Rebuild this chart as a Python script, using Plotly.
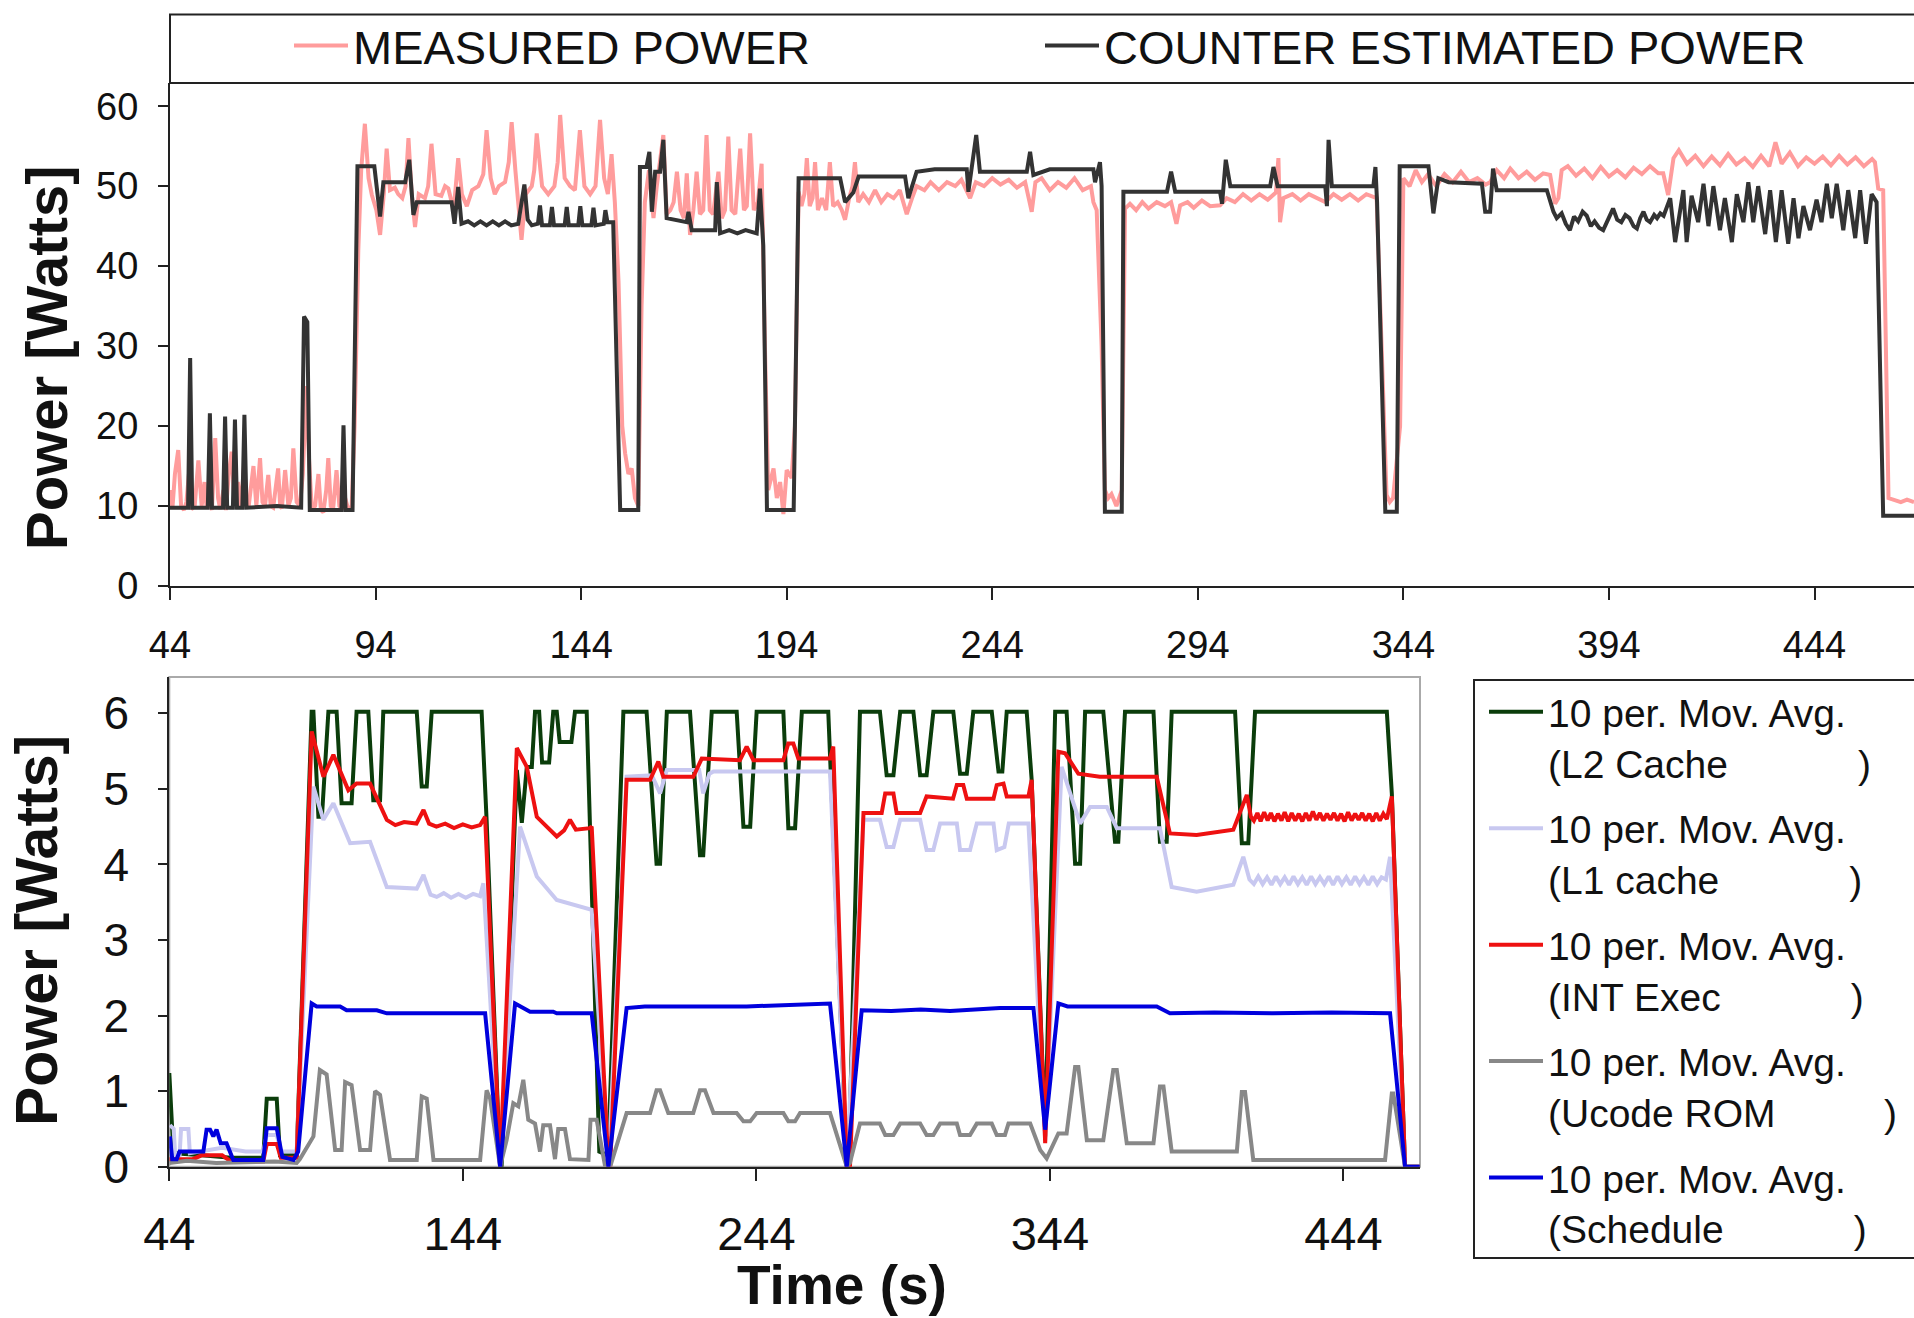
import plotly.graph_objects as go

# ------------------------------------------------------------------
# Data
# ------------------------------------------------------------------
TOP_X_TICKS = [44, 94, 144, 194, 244, 294, 344, 394, 444]
TOP_Y_TICKS = [0, 10, 20, 30, 40, 50, 60]
BOT_X_TICKS = [44, 144, 244, 344, 444]
BOT_Y_TICKS = [0, 1, 2, 3, 4, 5, 6]

# Measured power (time s, watts)
MEASURED_POWER = [
    (44.0, 12.0), (44.6, 9.8), (45.2, 14), (46.0, 17), (46.7, 10), (47.4, 9.5), (48.0, 10.5),
    (48.6, 14), (49.2, 9.6), (50.0, 10), (50.9, 15.7), (51.7, 10), (52.4, 13), (52.9, 9.8),
    (53.6, 11), (54.2, 9.5), (55.0, 18.5), (55.7, 11), (56.2, 9.6), (57.0, 12), (57.6, 9.5),
    (58.3, 14), (59.0, 16.8), (59.7, 10), (60.5, 13), (61.2, 9.8), (62.0, 15), (62.6, 10),
    (63.1, 9.8), (63.7, 13), (64.3, 15), (65.0, 10), (65.9, 16), (66.5, 10.5), (67.1, 10),
    (67.9, 13.9), (68.5, 10), (69.1, 9.8), (69.7, 12), (70.3, 14.7), (70.8, 10), (71.2, 9.7),
    (72.0, 14.5), (72.8, 10), (73.4, 11), (74.0, 17.2), (74.8, 10.5), (75.6, 10), (76.3, 14),
    (77.2, 25), (77.8, 16), (78.5, 9.5), (79.3, 10), (80.1, 14), (80.7, 9.5), (81.3, 9.2),
    (82.0, 12), (82.5, 16), (83.1, 10), (83.7, 9.8), (84.5, 14.5), (85.2, 10), (85.8, 9.6),
    (86.6, 11), (87.4, 9.5), (88.2, 10), (88.9, 20), (89.8, 42), (90.5, 52), (91.4, 57.8),
    (92.3, 51), (93.1, 48.9), (94.2, 47), (95.1, 43.9), (96.0, 49), (96.7, 54.7), (97.5, 49.5),
    (98.7, 49.8), (99.5, 49), (100.5, 48.5), (101.3, 50), (102.0, 56), (102.8, 49), (103.6, 44.9),
    (104.5, 49), (106.0, 48.5), (106.8, 50), (107.6, 55.3), (108.6, 49), (110.0, 48.8),
    (110.9, 50), (111.7, 49.7), (113.0, 47), (114.1, 53.5), (115.0, 49), (116.2, 47.5),
    (117.5, 49.5), (119.0, 50), (120.2, 51.5), (121.0, 57), (122.0, 51), (123.0, 49), (124.0, 50),
    (125.5, 50.5), (126.4, 53), (127.1, 58), (128.0, 52), (128.8, 48), (129.5, 43.3), (130.5, 49),
    (132.0, 50), (132.6, 52), (133.2, 56.6), (134.5, 50), (136.0, 49), (137.5, 50), (138.3, 53),
    (138.9, 58.9), (140.0, 51), (141.3, 50), (142.5, 49.5), (143.7, 57), (144.8, 50), (146.2, 49),
    (147.5, 50), (148.6, 58.3), (149.6, 51), (150.5, 49), (151.4, 54), (152.2, 48), (153.1, 38),
    (154.0, 20), (154.7, 16.6), (155.5, 14), (156.3, 14.7), (157.1, 11), (157.9, 10), (158.7, 35),
    (159.5, 48), (160.5, 52), (161.6, 46), (162.4, 50), (163.2, 53), (164.0, 56.4), (164.8, 46.5),
    (165.7, 47), (166.5, 48), (167.3, 51.8), (168.2, 47), (169.0, 46), (169.7, 51.6), (170.5, 43.9),
    (171.3, 47), (172.1, 51.8), (172.9, 46.5), (173.7, 47), (174.5, 56.4), (175.3, 47), (176.1, 46.5),
    (176.8, 49), (177.4, 51.8), (178.2, 46), (179.0, 47), (179.8, 56.2), (180.6, 47), (181.5, 46.5),
    (182.7, 54.7), (183.6, 47), (184.3, 47.5), (185.1, 56.6), (186.0, 47), (187.0, 48), (187.9, 52.8),
    (188.7, 30), (189.5, 12), (190.8, 14.7), (191.6, 11), (192.4, 13), (193.2, 9), (194.0, 14.5),
    (195.2, 13.5), (196.0, 20), (196.9, 49.3), (197.6, 47.5), (198.3, 49), (198.9, 53.5),
    (199.6, 47.5), (200.3, 48.5), (200.9, 53), (201.6, 47), (202.6, 48.5), (203.6, 47), (204.5, 53),
    (205.3, 47.5), (206.4, 48), (207.4, 47), (208.2, 45.8), (209.2, 48.5), (210.0, 50), (210.6, 53),
    (211.4, 48), (212.6, 49), (214.0, 48), (215.5, 49.5), (217.0, 48), (218.5, 49), (220.0, 48.5),
    (221.5, 49.5), (223.2, 46.5), (224.5, 48.5), (225.6, 50), (227.5, 49.5), (229.0, 50.5),
    (231.0, 49.5), (233.0, 50.5), (235.0, 50), (236.5, 50.8), (238.6, 48.5), (240.0, 50.5),
    (242.0, 50), (244.0, 51), (246.0, 50.2), (248.0, 50.8), (250.0, 49.8), (252.0, 50.5),
    (253.6, 46.8), (254.5, 50.5), (256.0, 51), (258.0, 49.5), (260.0, 50.5), (262.0, 49.8),
    (264.0, 51), (266.0, 49.5), (268.0, 50), (268.6, 48), (269.4, 47), (270.6, 30), (271.4, 12),
    (272.2, 11), (273.0, 11.5), (274.2, 10), (275.5, 12), (276.3, 47.2), (277.5, 47.8), (279.0, 47),
    (280.5, 48), (282.0, 47.2), (284.0, 48), (286.0, 47.5), (287.5, 48), (288.8, 45.3), (289.7, 47.6),
    (291.5, 48), (293.0, 47.3), (295.0, 48.2), (297.0, 47.5), (299.4, 47.6), (301.0, 48.5),
    (303.0, 48), (305.0, 49), (307.0, 48.2), (309.0, 49), (311.0, 48.3), (313.0, 49.2),
    (313.6, 53.5), (314.0, 45.5), (314.8, 48.5), (317.0, 49), (319.0, 48.2), (321.0, 49),
    (323.0, 48.5), (325.0, 48), (327.0, 49), (329.0, 48.3), (331.0, 49), (333.0, 48.2), (335.0, 49),
    (337.5, 48.5), (338.7, 30), (339.9, 11.4), (340.7, 10.5), (341.5, 11), (343.2, 20), (344.0, 51),
    (345.5, 50), (347.0, 52), (348.5, 50.5), (350.0, 51.5), (352.0, 50), (354.0, 51.5), (356.0, 50.5),
    (358.0, 51.8), (360.0, 50.5), (362.0, 51), (364.0, 50.2), (365.1, 50.5), (366.7, 52),
    (368.5, 51), (370.0, 52.2), (372.0, 51), (374.0, 51.8), (376.0, 50.8), (378.0, 51.6),
    (379.7, 51.4), (380.9, 47.8), (381.7, 48.5), (382.5, 52), (384.0, 52.5), (386.0, 51.3),
    (388.0, 52.2), (390.0, 51), (392.0, 52.4), (394.0, 51.2), (396.0, 52), (398.0, 51.1),
    (400.0, 52.3), (402.0, 51.5), (404.0, 52.5), (406.0, 51.6), (407.2, 51.6), (408.4, 48.9),
    (409.7, 53.5), (411.0, 54.5), (413.0, 52.8), (415.0, 53.8), (417.0, 52.5), (419.0, 53.7),
    (421.0, 52.6), (423.0, 54), (425.0, 52.7), (427.0, 53.5), (429.0, 52.4), (431.0, 53.8),
    (433.0, 52.5), (434.5, 55.5), (436.0, 52.8), (438.0, 54.2), (440.0, 52.5), (442.0, 53.6),
    (444.0, 52.8), (446.0, 53.7), (448.0, 52.6), (450.0, 53.8), (452.0, 52.7), (454.0, 53.6),
    (456.0, 52.5), (458.0, 53.4), (458.7, 53), (459.5, 49.7), (460.7, 49.5), (462.0, 11),
    (463.5, 10.8), (465.0, 10.5), (466.5, 10.8), (468.2, 10.5),
]

# Counter estimated power (time s, watts)
COUNTER_POWER = [
    (44.0, 9.8), (48.4, 9.8), (48.9, 28.5), (49.4, 9.8), (53.2, 9.8), (53.7, 21.6), (54.2, 9.8),
    (56.9, 9.8), (57.4, 21.2), (57.9, 9.8), (59.3, 9.8), (59.8, 20.8), (60.3, 9.8), (61.6, 9.8),
    (62.1, 21.4), (62.6, 9.8), (70.0, 10.0), (75.9, 9.8), (76.6, 33.7), (77.4, 33.0), (78.0, 9.5),
    (85.7, 9.5), (86.2, 20.1), (86.7, 9.5), (88.4, 9.5), (89.6, 52.5), (93.7, 52.5), (95.1, 46.2),
    (95.9, 50.5), (101.2, 50.5), (102.2, 53.3), (103.2, 46.4), (104.0, 48.0), (112.5, 48.0),
    (113.2, 45.3), (114.1, 49.9), (114.9, 45.3), (116.5, 45.6), (118.0, 45.1), (119.5, 45.6),
    (121.0, 45.1), (122.5, 45.6), (124.0, 45.1), (125.5, 45.6), (127.0, 45.1), (128.7, 45.3),
    (130.2, 50.2), (131.0, 45.8), (132.0, 45.1), (133.5, 45.3), (134.0, 47.6), (134.5, 45.1),
    (136.4, 45.1), (136.9, 47.4), (137.4, 45.1), (140.0, 45.1), (140.5, 47.4), (141.0, 45.1),
    (143.3, 45.1), (143.8, 47.5), (144.3, 45.1), (146.5, 45.1), (147.0, 47.3), (147.5, 45.1),
    (149.5, 45.3), (149.9, 47.0), (150.4, 45.5), (151.8, 45.5), (153.5, 9.5), (157.9, 9.5),
    (158.3, 52.4), (159.9, 52.4), (160.6, 54.3), (161.2, 46.8), (162.0, 51.8), (163.2, 51.8),
    (164.0, 55.8), (164.8, 46.0), (169.7, 45.5), (170.1, 46.8), (170.9, 44.5), (176.6, 44.5),
    (177.0, 50.5), (177.8, 44.1), (180.0, 44.5), (182.0, 44.1), (184.0, 44.5), (186.7, 44.1),
    (187.5, 49.7), (188.3, 42.6), (189.2, 9.5), (195.7, 9.5), (196.9, 51.0), (207.0, 51.0),
    (208.2, 48.0), (210.2, 49.2), (211.5, 51.2), (222.8, 51.2), (223.6, 48.5), (225.6, 51.8),
    (230.0, 52.1), (237.8, 52.1), (238.2, 49.3), (240.1, 56.4), (241.0, 51.8), (252.4, 51.8),
    (253.2, 54.3), (254.0, 51.4), (258.0, 52.1), (268.6, 52.1), (269.0, 50.5), (270.2, 53.0),
    (270.6, 50.0), (271.4, 9.3), (275.5, 9.3), (275.9, 49.3), (286.5, 49.3), (287.5, 51.8),
    (288.5, 49.3), (299.4, 49.3), (299.9, 47.8), (300.8, 53.3), (301.9, 50.0), (311.6, 50.0),
    (312.4, 52.4), (313.4, 50.0), (325.0, 50.0), (325.4, 47.5), (325.8, 55.8), (326.6, 50.0),
    (336.7, 50.0), (337.2, 52.4), (337.6, 48.0), (339.6, 9.3), (342.4, 9.3), (343.1, 52.5),
    (350.1, 52.5), (351.3, 46.6), (352.5, 51.0), (355.0, 50.5), (363.1, 50.3), (363.9, 46.8),
    (365.1, 46.8), (365.8, 52.2), (366.7, 49.5), (378.9, 49.5), (380.5, 46.8), (381.3, 46.0),
    (382.5, 46.6), (383.5, 45.3), (384.5, 44.5), (385.5, 46.2), (386.5, 45.6), (387.6, 46.8),
    (388.6, 46.3), (389.6, 45.0), (390.5, 45.6), (391.6, 44.8), (392.6, 44.5), (393.8, 46.0),
    (395.0, 47.2), (396.0, 45.8), (397.0, 45.5), (398.0, 46.4), (399.0, 46.0), (400.0, 45.0),
    (400.8, 44.7), (401.6, 46.0), (402.4, 46.8), (403.2, 45.8), (404.0, 45.5), (405.0, 46.4),
    (405.7, 46.0), (406.5, 46.6), (407.3, 46.3), (408.9, 48.5), (410.1, 43.0), (412.1, 49.5),
    (412.9, 43.0), (414.1, 48.8), (415.7, 45.5), (417.0, 50.3), (418.2, 45.0), (419.4, 50.0),
    (421.0, 44.5), (422.2, 48.5), (423.9, 43.0), (425.1, 49.0), (426.7, 45.5), (427.9, 50.5),
    (429.1, 45.5), (430.3, 50.0), (432.0, 44.0), (433.2, 49.5), (434.6, 43.0), (436.0, 49.5),
    (437.6, 42.8), (438.9, 48.5), (440.1, 43.5), (441.3, 47.5), (442.9, 44.5), (444.5, 48.3),
    (445.7, 45.5), (447.0, 50.3), (448.2, 46.0), (449.4, 50.3), (451.0, 44.5), (452.2, 49.5),
    (453.9, 43.5), (455.1, 49.5), (456.5, 42.8), (457.9, 49.0), (459.1, 48.0), (460.7, 8.8),
    (468.2, 8.8),
]

# Lower panel: 10-period moving averages of unit power (time s, watts)
L2_CACHE = [
    (44.0, 1.24), (45.4, 0.18), (55.0, 0.15), (65.0, 0.12), (76.0, 0.12), (77.2, 0.9), (80.6, 0.9),
    (81.7, 0.15), (87.4, 0.15), (92.5, 6.02), (93.1, 6.02), (94.8, 4.63), (96.0, 4.63), (98.2, 6.02),
    (101.0, 6.02), (102.7, 4.81), (106.1, 4.81), (107.8, 6.02), (111.8, 6.02), (113.5, 4.85),
    (115.8, 4.85), (116.9, 6.02), (128.3, 6.02), (130.0, 5.03), (131.7, 5.03), (133.4, 6.02),
    (150.4, 6.02), (152.1, 4.59), (156.7, 0.0), (157.2, 0.0), (162.4, 5.25), (164.1, 4.55),
    (165.8, 5.29), (167.5, 5.29), (168.6, 6.02), (170.0, 6.02), (171.0, 5.35), (173.4, 5.35),
    (174.8, 6.02), (176.0, 6.02), (177.0, 5.62), (181.0, 5.62), (182.2, 6.02), (186.2, 6.02),
    (190.5, 0.2), (193.5, 0.15), (198.7, 6.02), (206.6, 6.02), (210.0, 4.01), (211.2, 4.01),
    (213.5, 6.02), (221.4, 6.02), (224.8, 4.12), (225.9, 4.12), (228.8, 6.02), (237.3, 6.02),
    (239.6, 4.5), (241.9, 4.5), (244.1, 6.02), (253.2, 6.02), (254.9, 4.48), (257.2, 4.48),
    (259.5, 6.02), (268.5, 6.02), (274.8, 0.0), (275.5, 0.05), (279.3, 6.02), (286.1, 6.02),
    (288.4, 5.18), (290.7, 5.18), (293.0, 6.02), (297.5, 6.02), (299.8, 5.18), (302.0, 5.18),
    (304.3, 6.02), (311.1, 6.02), (313.4, 5.2), (315.7, 5.2), (317.9, 6.02), (324.2, 6.02),
    (326.5, 5.23), (327.8, 5.23), (329.3, 6.02), (336.1, 6.02), (337.8, 5.12), (342.4, 0.4),
    (345.8, 6.02), (349.7, 6.02), (352.6, 4.01), (354.3, 4.01), (356.0, 6.02), (362.2, 6.02),
    (366.2, 4.3), (367.3, 4.3), (369.6, 6.02), (379.3, 6.02), (381.5, 4.3), (383.8, 4.3),
    (385.5, 6.02), (407.1, 6.02), (409.4, 4.28), (411.6, 4.28), (413.9, 6.02), (458.8, 6.02),
    (460.5, 4.94), (465.0, 0.0), (470.0, 0.0),
]

L1_CACHE = [
    (44.2, 0.55), (45.5, 0.5), (46.0, 0.15), (47.5, 0.15), (48.0, 0.5), (50.5, 0.5), (51.0, 0.18),
    (62.0, 0.25), (70.0, 0.2), (76.0, 0.2), (77.2, 0.42), (80.6, 0.42), (82.0, 0.2), (87.4, 0.2),
    (93.1, 5.03), (96.5, 4.59), (99.9, 4.81), (105.6, 4.28), (112.4, 4.3), (118.1, 3.7),
    (128.3, 3.68), (130.6, 3.86), (133.0, 3.6), (135.1, 3.57), (137.5, 3.62), (140.0, 3.56),
    (142.5, 3.61), (145.0, 3.56), (147.5, 3.61), (149.9, 3.58), (151.0, 3.75), (156.7, 0.0),
    (163.5, 4.5), (169.2, 3.84), (176.0, 3.53), (180.5, 3.48), (187.3, 3.4), (187.9, 3.4),
    (193.6, 0.0), (199.8, 5.16), (208.4, 5.18), (211.2, 4.94), (213.5, 5.25), (224.5, 5.25),
    (225.9, 4.94), (228.0, 5.2), (229.4, 5.23), (269.1, 5.23), (274.8, 0.0), (280.5, 4.59),
    (286.1, 4.59), (288.4, 4.23), (290.7, 4.23), (293.0, 4.59), (299.8, 4.59), (302.0, 4.19),
    (304.3, 4.19), (306.6, 4.54), (312.3, 4.54), (313.4, 4.19), (316.8, 4.19), (319.1, 4.54),
    (324.8, 4.54), (325.9, 4.19), (328.5, 4.23), (330.0, 4.54), (336.7, 4.54), (342.4, 0.35),
    (348.0, 5.29), (354.3, 4.54), (357.7, 4.76), (363.4, 4.76), (366.8, 4.48), (381.5, 4.48),
    (385.5, 3.7), (394.0, 3.64), (406.5, 3.73), (409.9, 4.1), (412.0, 3.8), (413.5, 3.74),
    (415.0, 3.84), (416.5, 3.74), (418.0, 3.83), (419.5, 3.73), (421.0, 3.84), (422.5, 3.74),
    (424.0, 3.83), (425.5, 3.73), (427.0, 3.84), (428.5, 3.74), (430.0, 3.83), (431.5, 3.73),
    (433.0, 3.84), (434.5, 3.74), (436.0, 3.83), (437.5, 3.74), (439.0, 3.84), (440.5, 3.73),
    (442.0, 3.84), (443.5, 3.74), (445.0, 3.83), (446.5, 3.73), (448.0, 3.84), (449.5, 3.74),
    (451.0, 3.83), (452.5, 3.73), (454.0, 3.84), (455.5, 3.74), (457.0, 3.83), (458.5, 3.8),
    (459.9, 4.1), (465.0, 0.0), (470.0, 0.0),
]

INT_EXEC = [
    (44.0, 0.1), (52.0, 0.1), (55.0, 0.15), (62.0, 0.15), (65.0, 0.07), (76.0, 0.07), (77.2, 0.3),
    (80.6, 0.3), (82.0, 0.12), (87.4, 0.12), (92.5, 5.76), (96.5, 5.16), (99.9, 5.45), (105.0, 4.98),
    (107.8, 5.07), (112.4, 5.07), (118.1, 4.59), (121.0, 4.52), (124.0, 4.56), (128.2, 4.54),
    (130.6, 4.72), (132.5, 4.54), (135.0, 4.5), (138.0, 4.54), (141.0, 4.48), (144.0, 4.53),
    (147.0, 4.49), (149.9, 4.52), (151.6, 4.63), (156.7, 0.0), (162.4, 5.54), (165.8, 5.29),
    (169.2, 4.63), (172.6, 4.5), (176.0, 4.37), (178.5, 4.45), (180.5, 4.59), (182.5, 4.46),
    (187.3, 4.48), (187.9, 4.5), (193.6, 0.0), (194.2, 0.0), (199.8, 5.12), (207.8, 5.12),
    (210.6, 5.36), (212.3, 5.16), (222.5, 5.16), (225.4, 5.4), (238.4, 5.38), (240.7, 5.56),
    (243.0, 5.38), (253.2, 5.38), (254.9, 5.6), (256.6, 5.6), (258.3, 5.4), (269.1, 5.4),
    (270.2, 5.56), (274.8, 0.0), (275.9, 0.0), (280.5, 4.68), (286.7, 4.68), (287.9, 4.94),
    (290.7, 4.94), (291.8, 4.68), (299.8, 4.68), (302.0, 4.9), (311.0, 4.87), (312.3, 5.05),
    (314.5, 5.05), (315.7, 4.87), (324.8, 4.87), (325.9, 5.05), (328.2, 5.07), (329.3, 4.9),
    (336.7, 4.9), (337.8, 5.12), (342.4, 0.31), (346.9, 5.49), (349.2, 5.47), (353.7, 5.2),
    (361.0, 5.16), (380.4, 5.16), (384.9, 4.41), (394.0, 4.39), (406.5, 4.46), (411.1, 4.92),
    (412.5, 4.63), (413.5, 4.58), (414.7, 4.68), (415.8, 4.57), (417.0, 4.69), (418.2, 4.58),
    (419.3, 4.68), (420.5, 4.57), (421.7, 4.67), (422.9, 4.58), (424.0, 4.69), (425.2, 4.57),
    (426.4, 4.68), (427.6, 4.58), (428.8, 4.67), (430.0, 4.57), (431.2, 4.68), (432.4, 4.58),
    (433.6, 4.7), (434.8, 4.59), (436.0, 4.68), (437.2, 4.58), (438.4, 4.67), (439.6, 4.59),
    (440.8, 4.68), (442.0, 4.58), (443.2, 4.67), (444.4, 4.57), (445.6, 4.69), (446.8, 4.58),
    (448.0, 4.67), (449.2, 4.59), (450.4, 4.68), (451.6, 4.58), (452.8, 4.67), (454.0, 4.57),
    (455.2, 4.68), (456.4, 4.58), (457.6, 4.67), (458.8, 4.6), (460.5, 4.9), (465.0, 0.0),
    (470.0, 0.0),
]

UCODE_ROM = [
    (44.0, 0.05), (50.0, 0.08), (60.0, 0.05), (70.0, 0.06), (80.0, 0.07), (87.4, 0.05), (88.5, 0.1),
    (93.1, 0.4), (95.3, 1.28), (97.6, 1.22), (100.5, 0.22), (102.7, 0.22), (103.9, 1.12),
    (106.1, 1.08), (109.0, 0.22), (112.4, 0.22), (114.1, 1.0), (115.8, 0.95), (119.2, 0.09),
    (128.3, 0.09), (130.0, 0.93), (131.7, 0.9), (134.0, 0.09), (149.9, 0.09), (152.1, 1.01),
    (153.3, 0.9), (156.7, 0.0), (158.9, 0.35), (161.2, 0.84), (162.9, 0.8), (164.6, 1.15),
    (166.3, 0.62), (168.6, 0.57), (170.3, 0.2), (171.4, 0.55), (173.7, 0.55), (175.4, 0.1),
    (176.5, 0.5), (178.8, 0.5), (180.5, 0.1), (182.8, 0.1), (186.8, 0.09), (187.5, 0.62),
    (189.6, 0.62), (192.5, 0.0), (194.2, 0.0), (199.8, 0.71), (207.8, 0.71), (210.0, 1.01),
    (211.2, 1.01), (214.0, 0.71), (222.5, 0.71), (224.8, 1.01), (226.5, 1.01), (229.4, 0.71),
    (237.3, 0.71), (239.6, 0.6), (241.9, 0.6), (244.1, 0.71), (253.2, 0.71), (254.9, 0.6),
    (257.2, 0.6), (258.9, 0.71), (269.1, 0.71), (274.8, 0.0), (275.9, 0.05), (279.3, 0.57),
    (286.1, 0.57), (287.9, 0.42), (290.7, 0.42), (293.0, 0.57), (299.8, 0.57), (302.0, 0.42),
    (304.3, 0.42), (306.6, 0.57), (312.3, 0.57), (313.4, 0.42), (316.8, 0.42), (319.1, 0.57),
    (324.2, 0.57), (325.9, 0.42), (328.7, 0.42), (329.9, 0.57), (337.3, 0.57), (340.7, 0.22),
    (342.9, 0.11), (346.9, 0.44), (349.7, 0.44), (352.6, 1.32), (353.7, 1.32), (356.6, 0.35),
    (362.2, 0.35), (365.6, 1.28), (366.8, 1.28), (370.2, 0.31), (379.3, 0.31), (381.5, 1.06),
    (382.7, 1.06), (385.5, 0.2), (407.7, 0.2), (409.4, 0.99), (410.5, 0.99), (413.3, 0.09),
    (458.2, 0.09), (460.5, 0.97), (461.0, 0.97), (465.0, 0.0), (470.0, 0.0),
]

SCHEDULE = [
    (44.2, 0.4), (45.0, 0.1), (46.5, 0.1), (47.5, 0.2), (55.6, 0.2), (56.7, 0.49), (57.9, 0.49),
    (59.0, 0.4), (60.1, 0.49), (61.5, 0.31), (63.5, 0.31), (65.8, 0.09), (76.0, 0.09), (77.2, 0.51),
    (80.6, 0.51), (82.5, 0.13), (86.3, 0.09), (87.9, 0.2), (92.5, 2.16), (94.2, 2.12), (102.2, 2.12),
    (104.4, 2.07), (114.7, 2.07), (118.1, 2.03), (151.6, 2.03), (156.7, 0.0), (161.8, 2.16),
    (166.9, 2.05), (174.8, 2.05), (176.0, 2.03), (187.9, 2.03), (193.6, 0.0), (199.8, 2.1),
    (206.0, 2.12), (240.7, 2.12), (256.6, 2.14), (269.1, 2.16), (274.8, 0.0), (279.9, 2.07),
    (290.0, 2.06), (300.0, 2.08), (310.0, 2.06), (320.0, 2.08), (327.0, 2.1), (338.4, 2.1),
    (342.4, 0.49), (346.9, 2.16), (350.0, 2.12), (380.4, 2.12), (384.9, 2.03), (400.0, 2.04),
    (420.0, 2.03), (440.0, 2.04), (459.9, 2.03), (465.0, 0.0), (470.0, 0.0),
]

NB = "\u00a0"
LOWER_SERIES = [
    ("10 per. Mov. Avg.<br>(L2 Cache" + NB * 12 + ")", L2_CACHE, "#0b3d0b"),
    ("10 per. Mov. Avg.<br>(L1 cache" + NB * 12 + ")", L1_CACHE, "#c8c8f0"),
    ("10 per. Mov. Avg.<br>(INT Exec" + NB * 12 + ")", INT_EXEC, "#ee1111"),
    ("10 per. Mov. Avg.<br>(Ucode ROM" + NB * 10 + ")", UCODE_ROM, "#888888"),
    ("10 per. Mov. Avg.<br>(Schedule" + NB * 12 + ")", SCHEDULE, "#0000dd"),
]

# ------------------------------------------------------------------
W, H = 1914, 1318
FONT = "Liberation Sans, Arial, Helvetica, sans-serif"


def px(x):
    return x / W


def py(y):
    return (H - y) / H


fig = go.Figure()

fig.add_trace(go.Scatter(
    x=[p[0] for p in MEASURED_POWER], y=[p[1] for p in MEASURED_POWER],
    mode="lines", name="MEASURED POWER", line=dict(color="#ff9c9c", width=4),
    xaxis="x", yaxis="y", legend="legend", showlegend=True))
fig.add_trace(go.Scatter(
    x=[p[0] for p in COUNTER_POWER], y=[p[1] for p in COUNTER_POWER],
    mode="lines", name="COUNTER ESTIMATED POWER", line=dict(color="#333333", width=4),
    xaxis="x", yaxis="y", legend="legend2", showlegend=True))

for i, (name, pts, color) in enumerate(LOWER_SERIES):
    fig.add_trace(go.Scatter(
        x=[p[0] for p in pts], y=[p[1] for p in pts], mode="lines", name=name,
        line=dict(color=color, width=4), xaxis="x2", yaxis="y2",
        legend="legend3", legendgroup="g%d" % i, showlegend=True))

axis_common = dict(showgrid=False, zeroline=False, showline=True, ticks="outside",
                   tickwidth=2, tickcolor="#222", linecolor="#222", linewidth=2,
                   automargin=False)

top_x_dom = [px(170), 1.0]
top_y_dom = [py(586), py(83)]
bot_x_dom = [px(169.3), px(1420)]
bot_y_dom = [py(1166.7), py(677)]

fig.update_layout(
    width=W, height=H, margin=dict(l=0, r=0, t=0, b=0, autoexpand=False),
    paper_bgcolor="white", plot_bgcolor="white", showlegend=True,
    font=dict(family=FONT, color="#111"),
    xaxis=dict(axis_common, domain=top_x_dom, range=[44, 468.2], tickvals=TOP_X_TICKS,
               ticklen=12, ticklabelstandoff=12, anchor="y",
               tickfont=dict(family=FONT, size=38, color="#111")),
    yaxis=dict(axis_common, domain=top_y_dom, range=[0, 62.9], tickvals=TOP_Y_TICKS,
               ticklen=10, ticklabelstandoff=12, anchor="x",
               tickfont=dict(family=FONT, size=38, color="#111")),
    xaxis2=dict(axis_common, domain=bot_x_dom, range=[44, 470.1], tickvals=BOT_X_TICKS,
                ticklen=12, ticklabelstandoff=13, anchor="y2",
                tickfont=dict(family=FONT, size=47, color="#111")),
    yaxis2=dict(axis_common, domain=bot_y_dom, range=[0, 6.48], tickvals=BOT_Y_TICKS,
                ticklen=9, ticklabelstandoff=20, anchor="x2",
                tickfont=dict(family=FONT, size=46, color="#111")),
    legend=dict(x=px(289), y=py(46), xanchor="left", yanchor="middle",
                orientation="h", bgcolor="rgba(0,0,0,0)", borderwidth=0, visible=True,
                itemwidth=54, font=dict(family=FONT, size=47, color="#111")),
    legend2=dict(x=px(1040), y=py(46), xanchor="left", yanchor="middle",
                 orientation="h", bgcolor="rgba(0,0,0,0)", borderwidth=0, visible=True,
                 itemwidth=54, font=dict(family=FONT, size=47, color="#111")),
    legend3=dict(x=px(1484), y=py(680), xanchor="left", yanchor="top",
                 orientation="v", bgcolor="rgba(0,0,0,0)", borderwidth=0, visible=True,
                 valign="top", tracegroupgap=12, traceorder="grouped", itemwidth=54,
                 font=dict(family=FONT, size=39, color="#111")),
    shapes=[
        dict(type="rect", xref="paper", yref="paper", x0=px(170), x1=1.02,
             y0=py(83), y1=py(14.6), line=dict(color="#222", width=2)),
        dict(type="rect", xref="paper", yref="paper", x0=bot_x_dom[0], x1=bot_x_dom[1],
             y0=bot_y_dom[0], y1=bot_y_dom[1], line=dict(color="#aaaaaa", width=2),
             layer="below"),
        dict(type="rect", xref="paper", yref="paper", x0=px(1474), x1=1.02,
             y0=py(1258), y1=py(680), line=dict(color="#222", width=2)),
    ],
    annotations=[
        dict(text="<b>Power [Watts]</b>", x=px(46), y=py(358), xref="paper", yref="paper",
             textangle=-90, showarrow=False, xanchor="center", yanchor="middle",
             font=dict(family=FONT, size=58, color="#111")),
        dict(text="<b>Power [Watts]</b>", x=px(37), y=py(931), xref="paper", yref="paper",
             textangle=-90, showarrow=False, xanchor="center", yanchor="middle",
             font=dict(family=FONT, size=59, color="#111")),
        dict(text="<b>Time (s)</b>", x=px(842), y=py(1285), xref="paper", yref="paper",
             showarrow=False, xanchor="center", yanchor="middle",
             font=dict(family=FONT, size=55, color="#111")),
    ],
)

fig.write_html("out.html")
